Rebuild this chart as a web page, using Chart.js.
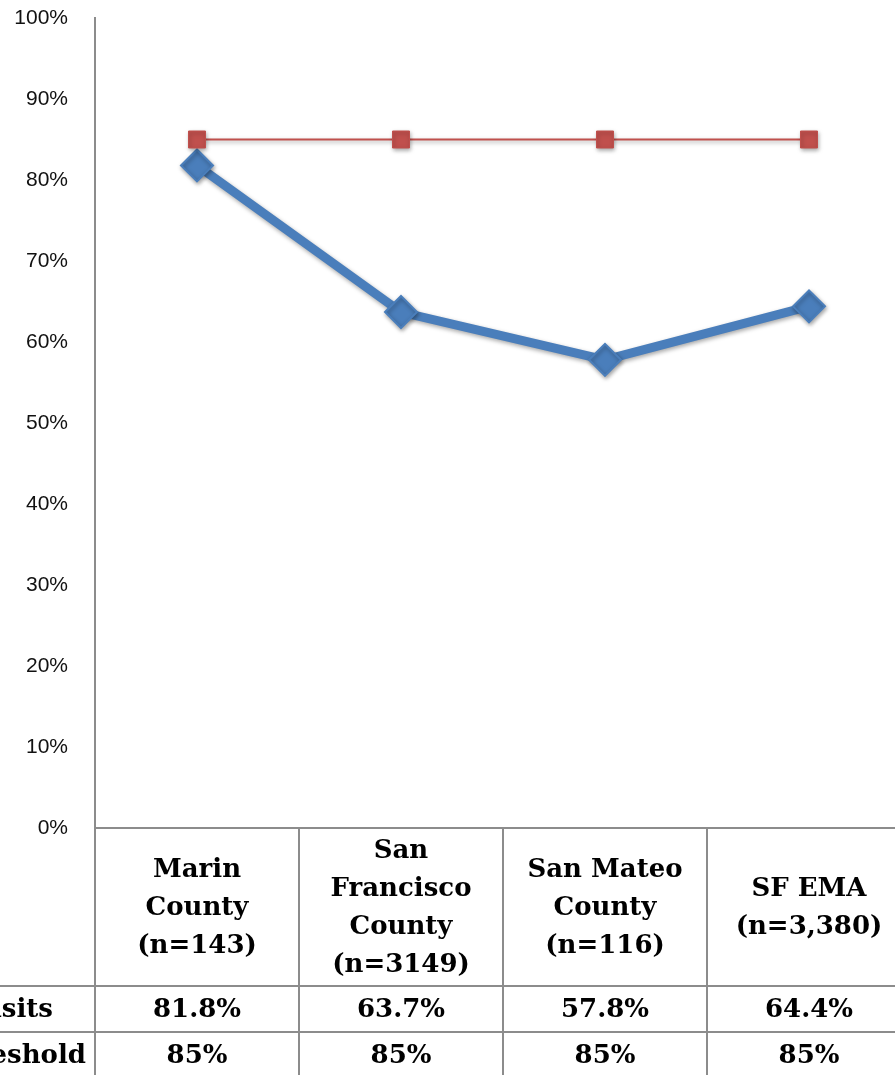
<!DOCTYPE html>
<html>
<head>
<meta charset="utf-8">
<script src="https://cdn.jsdelivr.net/npm/chart.js@4.4.1/dist/chart.umd.min.js"></script>
<style>
  html, body { margin: 0; padding: 0; overflow: hidden; background: #fff; }
  #wrap { position: absolute; left: 0; top: 0; width: 930px; height: 1075px; }
</style>
</head>
<body>
<div id="wrap"><canvas id="visitsChart"></canvas></div>
<script>
// Données du graphique
const categories = [
    ['Marin', 'County', '(n=143)'],
    ['San', 'Francisco', 'County', '(n=3149)'],
    ['San Mateo', 'County', '(n=116)'],
    ['SF EMA', '(n=3,380)']
];
const visits = [81.8, 63.7, 57.8, 64.4];
const threshold = [85, 85, 85, 85];
const rowLabels = ['% Visits', 'Threshold'];
const yMin = 0;
const yMax = 100;
const yStep = 10;

const gridColor = '#8c8c8c';
const tableFont = 'bold 26px "DejaVu Serif", serif';

// Tableau de données sous le graphique
const dataTablePlugin = {
    id: 'dataTable',
    afterDraw(chart) {
        const ctx = chart.ctx;
        const xs = chart.scales.x;
        const area = chart.chartArea;
        const colW = (area.right - area.left) / categories.length;
        const top = area.bottom;
        const headBottom = top + 158;
        const row1Bottom = headBottom + 46;
        const row2Bottom = row1Bottom + 46;

        ctx.save();
        ctx.strokeStyle = gridColor;
        ctx.lineWidth = 2;
        ctx.beginPath();
        ctx.moveTo(area.left, top);
        ctx.lineTo(area.right, top);
        ctx.moveTo(0, headBottom);
        ctx.lineTo(area.right, headBottom);
        ctx.moveTo(0, row1Bottom);
        ctx.lineTo(area.right, row1Bottom);
        ctx.moveTo(0, row2Bottom);
        ctx.lineTo(area.right, row2Bottom);
        for (let i = 0; i <= categories.length; i++) {
            const lx = Math.round(area.left + i * colW);
            ctx.moveTo(lx, i === 0 ? area.top : top);
            ctx.lineTo(lx, row2Bottom + 10);
        }
        ctx.stroke();

        ctx.fillStyle = '#000';
        ctx.font = tableFont;
        ctx.textAlign = 'center';
        ctx.textBaseline = 'middle';
        const lineH = 38;
        const headMid = (top + headBottom) / 2 + 1;
        categories.forEach((lines, i) => {
            const cx = xs.getPixelForValue(i);
            const y0 = headMid - (lines.length - 1) * lineH / 2;
            lines.forEach((t, j) => ctx.fillText(t, cx, y0 + j * lineH));
            ctx.fillText(visits[i].toFixed(1) + '%', cx, (headBottom + row1Bottom) / 2 + 1);
            ctx.fillText(threshold[i] + '%', cx, (row1Bottom + row2Bottom) / 2 + 1);
        });

        ctx.textAlign = 'left';
        ctx.fillText(rowLabels[0], 53 - ctx.measureText(rowLabels[0]).width, (headBottom + row1Bottom) / 2 + 1);
        ctx.fillText(rowLabels[1], 86 - ctx.measureText(rowLabels[1]).width, (row1Bottom + row2Bottom) / 2 + 1);
        ctx.restore();
    }
};

// Ombre légère sous les lignes et marqueurs
const shadowPlugin = {
    id: 'shadow',
    beforeDatasetsDraw(chart) {
        const ctx = chart.ctx;
        ctx.save();
        ctx.shadowColor = 'rgba(0, 0, 0, 0.35)';
        ctx.shadowBlur = 4;
        ctx.shadowOffsetX = 1;
        ctx.shadowOffsetY = 2;
    },
    afterDatasetsDraw(chart) {
        chart.ctx.restore();
    }
};

const ctx = document.getElementById('visitsChart').getContext('2d');
new Chart(ctx, {
    type: 'line',
    data: {
        labels: categories.map(c => c.join(' ')),
        datasets: [{
            label: rowLabels[1],
            data: threshold,
            borderColor: '#c0504d',
            backgroundColor: '#c0504d',
            borderWidth: 2,
            pointStyle: 'rect',
            pointRadius: 12,
            pointBorderWidth: 1,
            tension: 0
        }, {
            label: rowLabels[0],
            data: visits,
            borderColor: '#4a7ebb',
            backgroundColor: '#4a7ebb',
            borderWidth: 9,
            pointStyle: 'rectRot',
            pointRadius: 16,
            pointBorderWidth: 2,
            tension: 0
        }]
    },
    options: {
        responsive: true,
        maintainAspectRatio: false,
        animation: false,
        layout: {
            autoPadding: false,
            padding: { top: 18, bottom: 247, left: 0, right: 19 }
        },
        plugins: {
            legend: { display: false },
            tooltip: { enabled: false }
        },
        scales: {
            x: {
                display: false,
                offset: true
            },
            y: {
                min: yMin,
                max: yMax,
                afterFit(scale) { scale.width = 95; },
                grid: { display: false, drawTicks: true, tickLength: 27 },
                border: { display: true, color: gridColor, width: 2 },
                ticks: {
                    stepSize: yStep,
                    padding: 0,
                    color: '#111',
                    font: { family: '"Liberation Sans", Arial, sans-serif', size: 21 },
                    callback: v => v + '%'
                }
            }
        }
    },
    plugins: [shadowPlugin, dataTablePlugin]
});
</script>
</body>
</html>
